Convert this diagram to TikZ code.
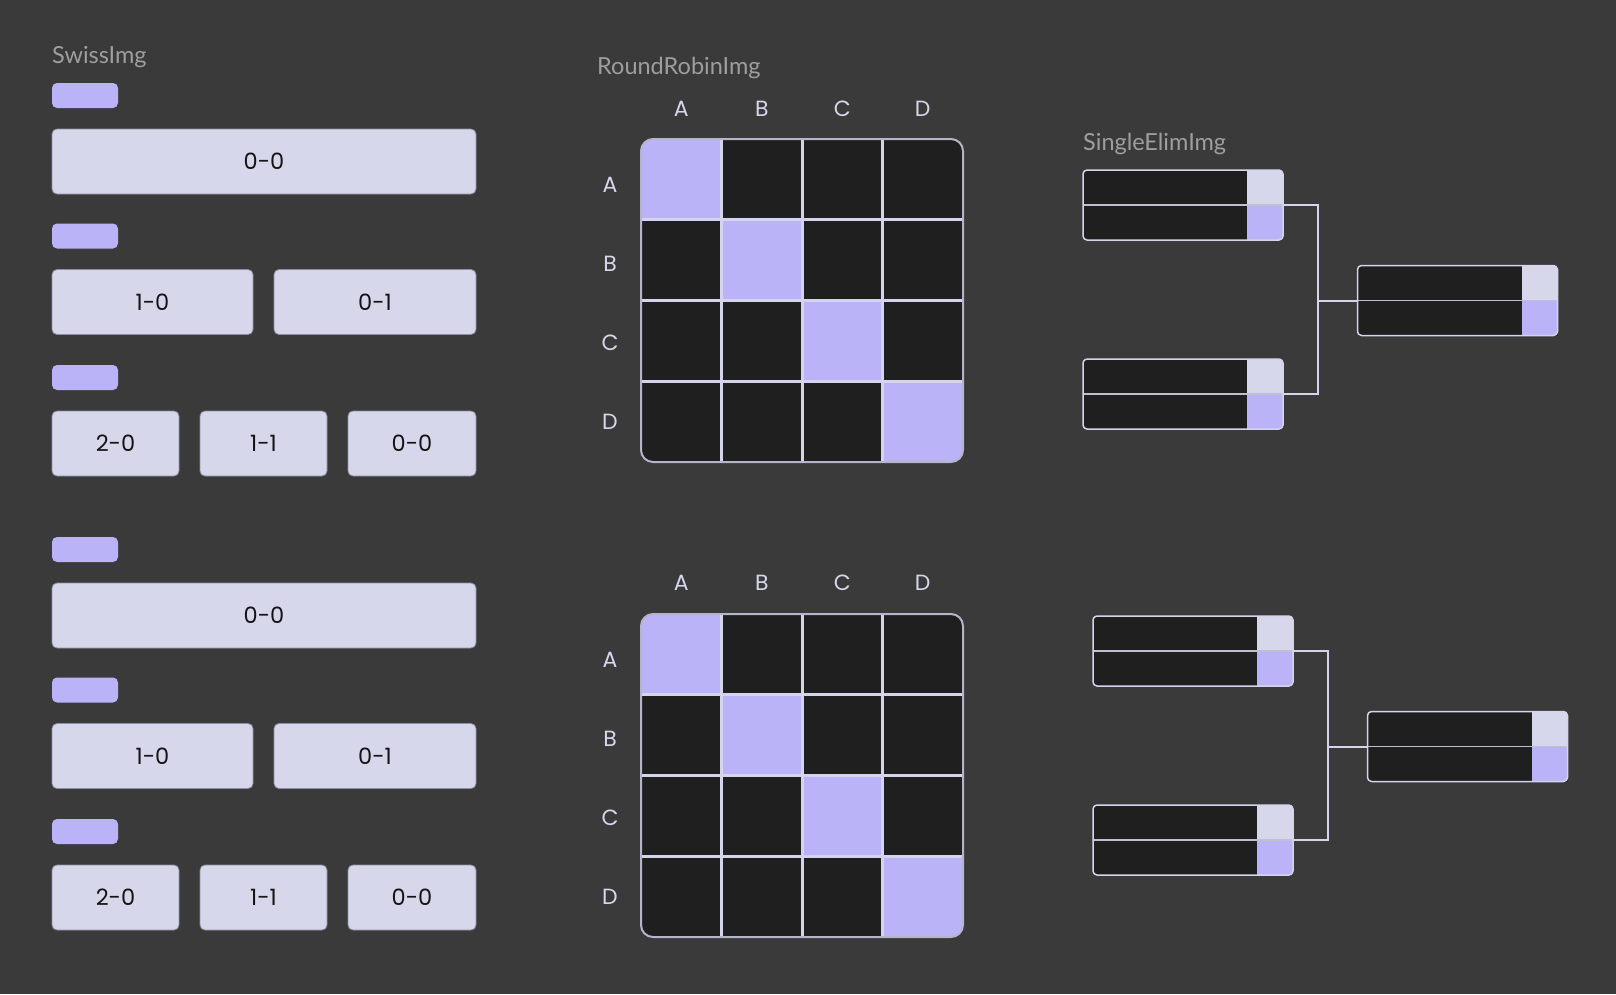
\documentclass[tikz,border=0pt]{standalone}
\usepackage{fontspec}
\setmainfont{Poppins}
\newfontfamily\captionfont{Lato}
\definecolor{bgdark}{HTML}{3A3A3A}
\definecolor{pale}{HTML}{D7D7EC}
\definecolor{paleedge}{HTML}{8E8EA4}
\definecolor{accent}{HTML}{BAB3F8}
\definecolor{cellblack}{HTML}{1F1F1F}
\definecolor{gridlav}{HTML}{D4D4EC}
\definecolor{framelav}{HTML}{B4B4CA}
\definecolor{mutedgray}{HTML}{9E9E9E}
\definecolor{ink}{HTML}{141414}
\tikzset{
  pill/.style={fill=accent, rounded corners=5pt, minimum width=66pt, minimum height=25pt, inner sep=0pt, outer sep=0pt},
  scorebox/.style={fill=pale, draw=paleedge, line width=0.8pt, rounded corners=5pt, minimum height=65pt, inner sep=0pt, outer sep=0pt, text=ink, font=\fontsize{22.5}{26}\selectfont},
  caption/.style={anchor=base west, inner sep=0pt, text=mutedgray, font=\captionfont\fontsize{23.5}{27}\selectfont},
  rrletter/.style={inner sep=0pt, text=pale, font=\fontsize{22}{26}\selectfont},
  gridline/.style={draw=gridlav, line width=3pt},
  gridframe/.style={draw=framelav, line width=2pt, rounded corners=12pt},
  matchbox/.style={fill=cellblack, minimum width=200pt, minimum height=70pt, inner sep=0pt, outer sep=0pt},
  matchrule/.style={draw=gridlav!90!black, line width=1.5pt},
  matchframe/.style={draw=gridlav, line width=1.5pt, rounded corners=4pt},
  wire/.style={draw=gridlav, line width=2pt}
}
% one bracket match: dark name column, two score cells
\newcommand\elimmatch[2]{%
  \node[matchbox] (#1) at (#2) {};
  \begin{scope}
    \clip[rounded corners=4pt] (#1.north west) rectangle (#1.south east);
    \fill[pale] ([xshift=-36pt]#1.north east) rectangle (#1.east);
    \fill[accent] ([xshift=-36pt]#1.east) rectangle (#1.south east);
  \end{scope}
  \draw[matchrule] (#1.west) -- (#1.east);
  \draw[matchframe] (#1.north west) rectangle (#1.south east);
}
\begin{document}
\begin{tikzpicture}[x=1pt, y=-1pt]
  \fill[bgdark] (0,0) rectangle (1616,994);
  \useasboundingbox (0,0) rectangle (1616,994);

  \node[caption] (swisscap) at (52,63) {SwissImg};
  \node[caption] (rrcap) at (597,74) {RoundRobinImg};
  \node[caption] (elimcap) at (1083,150) {SingleElimImg};

  % swiss columns
  \foreach \sy in {0,454} {
    \node[pill] (roundA\sy) at (85,95.5+\sy) {};
    \node[scorebox, minimum width=424pt] (rowA\sy) at (264,161.5+\sy) {0-0};
    \node[pill] (roundB\sy) at (85,236+\sy) {};
    \node[scorebox, minimum width=201pt] (rowBa\sy) at (152.5,302+\sy) {1-0};
    \node[scorebox, minimum width=202pt] (rowBb\sy) at (375,302+\sy) {0-1};
    \node[pill] (roundC\sy) at (85,377.5+\sy) {};
    \node[scorebox, minimum width=127pt] (rowCa\sy) at (115.5,443.5+\sy) {2-0};
    \node[scorebox, minimum width=127pt] (rowCb\sy) at (263.5,443.5+\sy) {1-1};
    \node[scorebox, minimum width=128pt] (rowCc\sy) at (412,443.5+\sy) {0-0};
  }

  % round robin tables
  \foreach \gy/\ly [count=\g] in {139/108.5, 614/583} {
    \begin{scope}
      \clip[rounded corners=12pt] (641,\gy) rectangle (963,\gy+323);
      \fill[cellblack] (641,\gy) rectangle (963,\gy+323);
      \foreach \k in {0,...,3}
        \fill[accent] (641+80.5*\k,\gy+80.75*\k) rectangle ++(80.5,80.75);
    \end{scope}
    \foreach \k in {1,2,3} {
      \draw[gridline] (641+80.5*\k,\gy) -- ++(0,323);
      \draw[gridline] (641,\gy+80.75*\k) -- ++(322,0);
    }
    \draw[gridframe] (641,\gy) rectangle (963,\gy+323);
    \foreach \letter [count=\i from 0] in {A,B,C,D} {
      \node[rrletter] (colhead\g\letter) at (681.25+80.5*\i,\ly) {\letter};
      \node[rrletter] (rowhead\g\letter) at (610,\gy+45.5+79.2*\i) {\letter};
    }
  }

  % single elimination brackets
  \foreach \ex/\ey [count=\b] in {0/0, 10/446} {
    \elimmatch{semiA\b}{1183+\ex,205+\ey}
    \elimmatch{semiB\b}{1183+\ex,394+\ey}
    \elimmatch{final\b}{1457.5+\ex,300.5+\ey}
    \coordinate (join\b) at (1318+\ex,300.5+\ey);
    \draw[wire] (semiA\b.east) -| (join\b) |- (semiB\b.east);
    \draw[wire] (join\b) -- (final\b.west);
  }
\end{tikzpicture}
\end{document}
